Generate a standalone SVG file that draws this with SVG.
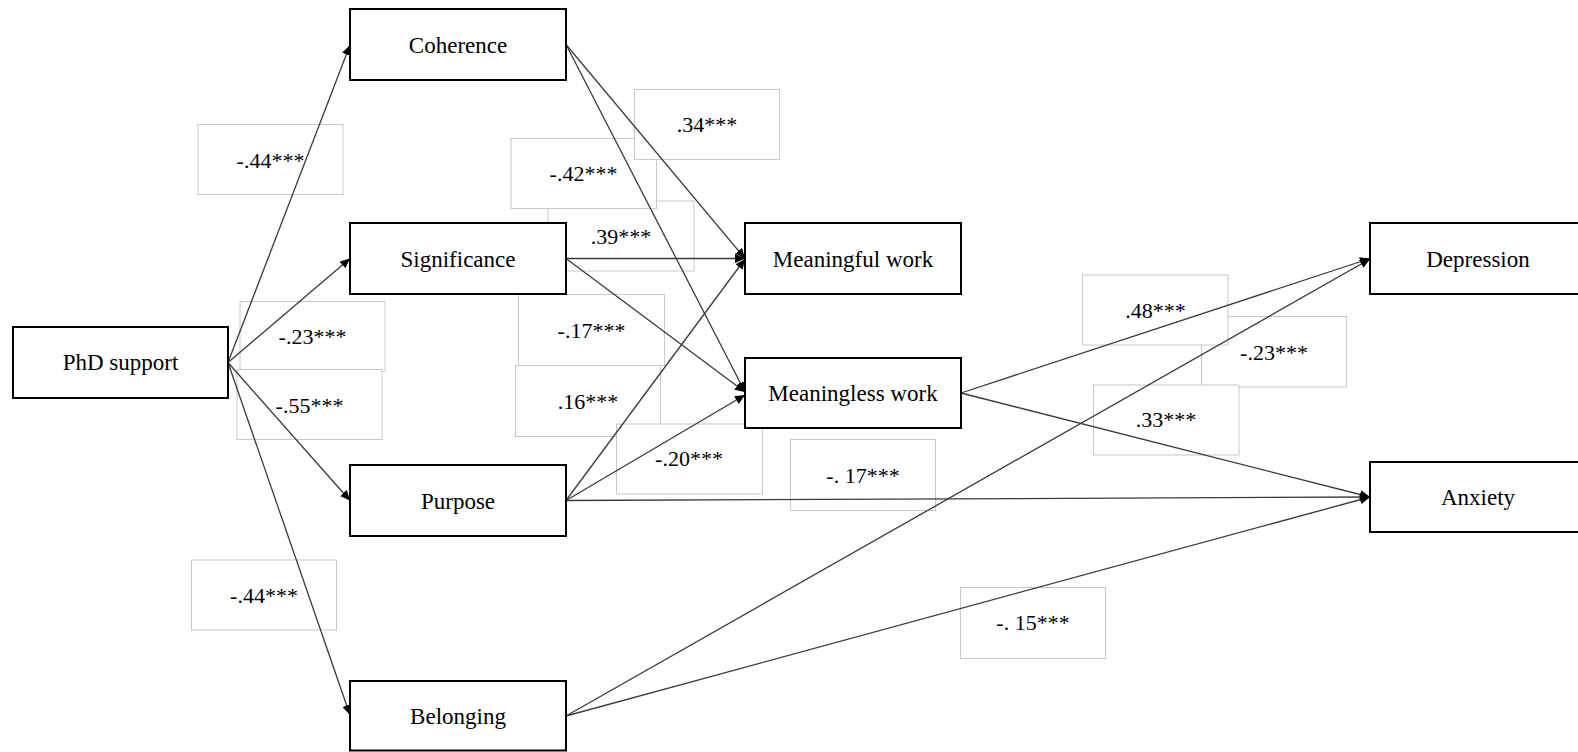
<svg xmlns="http://www.w3.org/2000/svg" width="1578" height="752" viewBox="0 0 1578 752">
<style>
.node rect{fill:#fff;stroke:#000;stroke-width:2}
.node text{font-family:"Liberation Serif","Times New Roman",serif;font-size:23px;fill:#000;text-anchor:middle}
.lbl rect{fill:#fff;stroke:#c8c8c8;stroke-width:1}
.lbl text{font-family:"Liberation Serif","Times New Roman",serif;font-size:22px;fill:#000;text-anchor:middle}
.edges line{stroke:#3a3a3a;stroke-width:1.3;fill:none;marker-end:url(#arr)}
</style>
<defs>
<marker id="arr" markerUnits="userSpaceOnUse" markerWidth="11" markerHeight="9" refX="10" refY="4.5" orient="auto">
<path d="M0,0 L10,4.5 L0,9 z" fill="#000"/>
</marker>
</defs>
<rect width="1578" height="752" fill="#fff"/>
<g id="labels">
<g class="lbl" id="l1"><rect x="198" y="124.5" width="145" height="70"/><text x="270.5" y="168">-.44***</text></g>
<g class="lbl" id="l2"><rect x="240" y="301.5" width="145" height="70"/><text x="312.5" y="344">-.23***</text></g>
<g class="lbl" id="l3"><rect x="237" y="369.5" width="145" height="70"/><text x="309.5" y="413">-.55***</text></g>
<g class="lbl" id="l4"><rect x="191.5" y="560" width="145" height="70"/><text x="264" y="603">-.44***</text></g>
<g class="lbl" id="l7"><rect x="548" y="201" width="146" height="70"/><text x="621" y="243.5">.39***</text></g>
<g class="lbl" id="l6"><rect x="511" y="138.5" width="145.5" height="70"/><text x="583.5" y="181">-.42***</text></g>
<g class="lbl" id="l5"><rect x="634.5" y="89.5" width="145" height="70"/><text x="707" y="132">.34***</text></g>
<g class="lbl" id="l8"><rect x="518.5" y="294.5" width="146" height="71"/><text x="591.5" y="338">-.17***</text></g>
<g class="lbl" id="l9"><rect x="515.5" y="365.5" width="145" height="71"/><text x="588" y="409">.16***</text></g>
<g class="lbl" id="l10"><rect x="616.5" y="424" width="146" height="70"/><text x="689" y="466">-.20***</text></g>
<g class="lbl" id="l12"><rect x="1201.5" y="316.5" width="145" height="70.5"/><text x="1274" y="360">-.23***</text></g>
<g class="lbl" id="l11"><rect x="1082.5" y="275" width="145.5" height="70"/><text x="1155.5" y="318">.48***</text></g>
<g class="lbl" id="l13"><rect x="1093.5" y="385" width="145.5" height="70"/><text x="1166" y="427">.33***</text></g>
<g class="lbl" id="l14"><rect x="790.5" y="439.5" width="145" height="71"/><text x="863" y="483">-. 17***</text></g>
<g class="lbl" id="l15"><rect x="960.5" y="587.5" width="145" height="71"/><text x="1033" y="630">-. 15***</text></g>
</g>
<g id="connectors" class="edges">
<line x1="228" y1="362.5" x2="350" y2="45"/>
<line x1="228" y1="362.5" x2="350" y2="258.5"/>
<line x1="228" y1="362.5" x2="350" y2="500.5"/>
<line x1="228" y1="362.5" x2="350" y2="715"/>
<line x1="566" y1="44.5" x2="745" y2="258.5"/>
<line x1="566" y1="44.5" x2="745" y2="392"/>
<line x1="566" y1="258.5" x2="745" y2="258.5"/>
<line x1="566" y1="258.5" x2="745" y2="392"/>
<line x1="566" y1="500.5" x2="745" y2="259"/>
<line x1="566" y1="500.5" x2="745" y2="395"/>
<line x1="961" y1="393" x2="1370" y2="258.5"/>
<line x1="961" y1="393" x2="1370" y2="497"/>
<line x1="566" y1="500.5" x2="1370" y2="497"/>
<line x1="566" y1="716" x2="1370" y2="259"/>
<line x1="566" y1="716" x2="1370" y2="497"/>
</g>
<g id="n-phd" class="node"><rect x="13" y="327" width="215" height="71"/><text x="120.5" y="370">PhD support</text></g>
<g id="n-coherence" class="node"><rect x="350" y="9" width="216" height="71"/><text x="458" y="52.5">Coherence</text></g>
<g id="n-significance" class="node"><rect x="350" y="223" width="216" height="71"/><text x="458" y="266.5">Significance</text></g>
<g id="n-purpose" class="node"><rect x="350" y="465" width="216" height="71"/><text x="458" y="508.5">Purpose</text></g>
<g id="n-belonging" class="node"><rect x="350" y="681" width="216" height="69.5"/><text x="458" y="724">Belonging</text></g>
<g id="n-meaningful" class="node"><rect x="745" y="223" width="216" height="71"/><text x="853" y="266.5">Meaningful work</text></g>
<g id="n-meaningless" class="node"><rect x="745" y="358" width="216" height="70"/><text x="853" y="401">Meaningless work</text></g>
<g id="n-depression" class="node"><rect x="1370" y="223" width="216" height="71"/><text x="1478" y="266.5">Depression</text></g>
<g id="n-anxiety" class="node"><rect x="1370" y="462" width="216" height="70"/><text x="1478" y="505">Anxiety</text></g>
</svg>
